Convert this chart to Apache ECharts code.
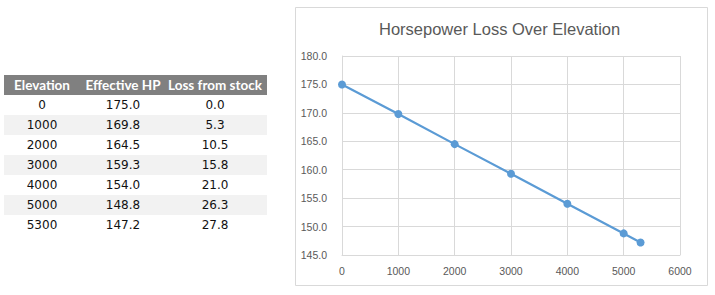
<!DOCTYPE html>
<html>
<head>
<meta charset="utf-8">
<script src="https://cdn.jsdelivr.net/npm/echarts@6/dist/echarts.min.js"></script>
<style>
  html, body { margin: 0; padding: 0; background: #ffffff; }
  #chart { width: 715px; height: 295px; }
</style>
</head>
<body>
<div id="chart"></div>
<script>
// ---- data ----
var tableHeaders = ['Elevation', 'Effective HP', 'Loss from stock'];
var elevations = [0, 1000, 2000, 3000, 4000, 5000, 5300];
var effectiveHP = [175.0, 169.8, 164.5, 159.3, 154.0, 148.8, 147.2];
var lossFromStock = [0.0, 5.3, 10.5, 15.8, 21.0, 26.3, 27.8];
var chartTitle = 'Horsepower Loss Over Elevation';
var yTicks = { min: 145, max: 180, step: 5 };
var xTicks = { min: 0, max: 6000, step: 1000 };

// ---- table built as graphic elements ----
var tblLeft = 4, tblWidth = 263, tblTop = 75, rowH = 20;
var colCenters = [42, 123, 215];
var graphics = [];
// chart border
graphics.push({
  type: 'rect', silent: true, z: -10,
  shape: { x: 295.5, y: 7.5, width: 412, height: 278 },
  style: { fill: '#ffffff', stroke: '#d9d9d9', lineWidth: 1 }
});
// header
graphics.push({
  type: 'rect', silent: true,
  shape: { x: tblLeft, y: tblTop, width: tblWidth, height: rowH },
  style: { fill: '#808080' }
});
tableHeaders.forEach(function (h, i) {
  graphics.push({
    type: 'text', silent: true,
    x: colCenters[i], y: tblTop + rowH / 2,
    style: {
      text: h, fill: '#ffffff', align: 'center', verticalAlign: 'middle',
      font: 'bold 13.5px Lato, "Liberation Sans", sans-serif'
    }
  });
});
elevations.forEach(function (e, r) {
  var y0 = tblTop + rowH * (r + 1);
  if (r % 2 === 1) {
    graphics.push({
      type: 'rect', silent: true,
      shape: { x: tblLeft, y: y0, width: tblWidth, height: rowH },
      style: { fill: '#f2f2f2' }
    });
  }
  var vals = [String(e), effectiveHP[r].toFixed(1), lossFromStock[r].toFixed(1)];
  vals.forEach(function (v, c) {
    graphics.push({
      type: 'text', silent: true,
      x: colCenters[c], y: y0 + rowH / 2,
      style: {
        text: v, fill: '#111111', align: 'center', verticalAlign: 'middle',
        font: '12px "DejaVu Sans", sans-serif'
      }
    });
  });
});

var chart = echarts.init(document.getElementById('chart'), null, { renderer: 'svg' });
var seriesData = elevations.map(function (e, i) { return [e, effectiveHP[i]]; });
var gridColor = '#d9d9d9';
var labelColor = '#595959';

chart.setOption({
  animation: false,
  backgroundColor: '#ffffff',
  title: {
    text: chartTitle,
    left: 379, top: 20, padding: 0,
    textStyle: { fontFamily: '"Liberation Sans", Arial, sans-serif', fontSize: 16.5, fontWeight: 'normal', color: '#595959' }
  },
  grid: { left: 342, right: 35, top: 56, bottom: 40, containLabel: false },
  xAxis: {
    type: 'value', min: xTicks.min, max: xTicks.max, interval: xTicks.step,
    axisLine: { show: true, lineStyle: { color: gridColor, width: 1 } },
    axisTick: { show: false },
    splitLine: { show: true, lineStyle: { color: gridColor, width: 1 } },
    axisLabel: {
      color: labelColor, fontSize: 10.5, margin: 10, fontFamily: '"Liberation Sans", Arial, sans-serif',
      formatter: function (v) { return String(v); }
    }
  },
  yAxis: {
    type: 'value', min: yTicks.min, max: yTicks.max, interval: yTicks.step,
    axisLine: { show: true, lineStyle: { color: gridColor, width: 1 } },
    axisTick: { show: false },
    splitLine: { show: true, lineStyle: { color: gridColor, width: 1 } },
    axisLabel: {
      color: labelColor, fontSize: 10.5, margin: 15, fontFamily: '"Liberation Sans", Arial, sans-serif',
      formatter: function (v) { return v.toFixed(1); }
    }
  },
  series: [{
    type: 'line',
    data: seriesData,
    symbol: 'circle', symbolSize: 8,
    lineStyle: { color: '#5b9bd5', width: 2.25 },
    itemStyle: { color: '#5b9bd5' }
  }],
  graphic: graphics
});
</script>
</body>
</html>
